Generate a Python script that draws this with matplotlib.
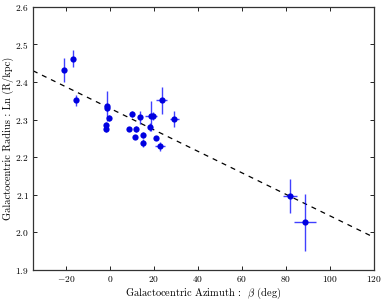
import matplotlib
matplotlib.use('Agg')
import matplotlib.pyplot as plt
import numpy as np

plt.rcParams['font.family'] = 'serif'
plt.rcParams['font.serif'] = ['cmr10']
plt.rcParams['mathtext.fontset'] = 'cm'
plt.rcParams['axes.formatter.use_mathtext'] = True

# azimuth (deg), ln radius, errors
beta = [-20.8, -16.8, -15.3, -1.5, -1.5, -0.5, -1.6, -1.6, 10.0, 8.5, 11.8, 13.6,
        11.2, 15.0, 14.9, 18.6, 19.5, 18.4, 20.9, 22.7, 23.5, 29.3, 81.8, 88.8]
ln_r = [2.432, 2.462, 2.351, 2.337, 2.330, 2.304, 2.286, 2.276, 2.314, 2.276, 2.274, 2.306,
        2.255, 2.260, 2.238, 2.309, 2.310, 2.281, 2.252, 2.229, 2.351, 2.302, 2.097, 2.027]
beta_err = [0.5, 0.5, 0.5, 0.5, 0.5, 0.5, 0.5, 0.5, 0.5, 0.5, 0.5, 0.5,
            0.5, 0.5, 0.5, 2.7, 1.0, 0.5, 0.5, 2.1, 2.5, 1.9, 3.3, 5.0]
ln_r_err = [0.032, 0.022, 0.014, 0.040, 0.008, 0.008, 0.008, 0.008, 0.008, 0.005, 0.008, 0.018,
            0.005, 0.008, 0.010, 0.040, 0.010, 0.010, 0.005, 0.012, 0.035, 0.022, 0.046, 0.076]

# linear fit shown as dashed line
fit_intercept = 2.330
fit_slope = -0.00286

fig = plt.figure(figsize=(3.86, 3.0), dpi=100)
ax = fig.add_axes([0.0855, 0.100, 0.8835, 0.877])

xs = np.array([-35, 120])
ax.plot(xs, fit_intercept + fit_slope * xs, 'k--', lw=0.9, dashes=(4, 4))

ax.errorbar(beta, ln_r, xerr=beta_err, yerr=ln_r_err, fmt='o', color='#0000e0',
            ecolor=(0, 0, 1, 0.75), elinewidth=1.0, capsize=0, markersize=4.5,
            markeredgewidth=0)

ax.set_xlim(-35, 120)
ax.set_ylim(1.9, 2.6)
ax.set_xticks(np.arange(-20, 121, 20))
ax.set_yticks(np.arange(1.9, 2.61, 0.1))
ax.tick_params(direction='in', top=True, right=True, labelsize=6.8, length=3, width=0.6, pad=3)
for s in ax.spines.values():
    s.set_linewidth(0.9)
    s.set_color('#333333')

ax.set_xlabel(r'Galactocentric Azimuth :  $\beta$ (deg)', fontsize=7.5)
ax.set_ylabel('Galactocentric Radius : Ln (R/kpc)', fontsize=7.5)
ax.xaxis.set_label_coords(0.5, -0.06)
ax.yaxis.set_label_coords(-0.055, 0.5)

fig.savefig('out.png', dpi=100)
